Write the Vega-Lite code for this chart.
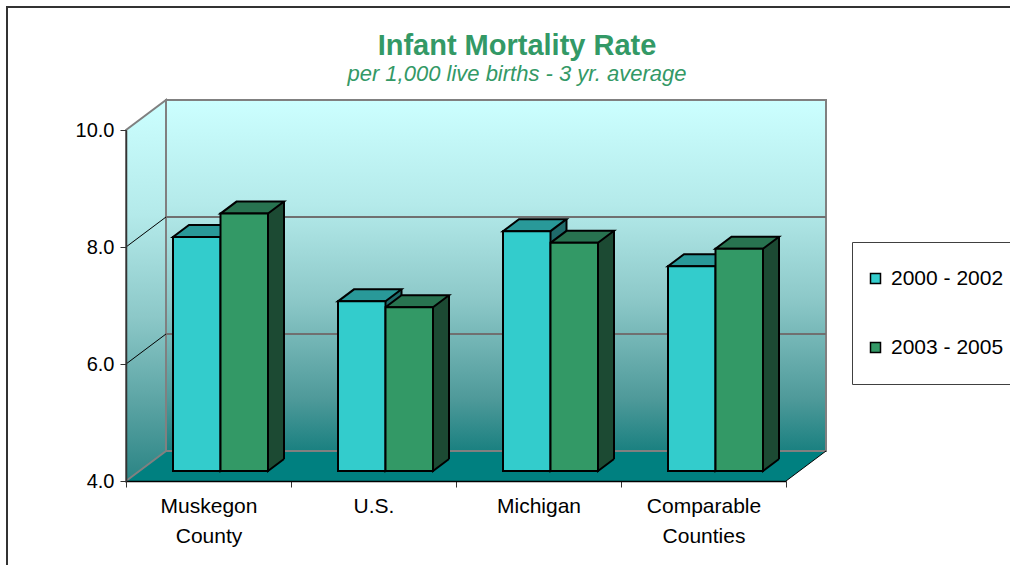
{
  "$schema": "https://vega.github.io/schema/vega-lite/v6.json",
  "width": 660,
  "height": 351,
  "autosize": {"type": "none"},
  "padding": {"left": 126, "top": 130, "right": 224, "bottom": 84},
  "background": "white",
  "config": {"view": {"stroke": null}, "font": "Liberation Sans"},
  "title": {
    "text": "Infant Mortality Rate",
    "subtitle": "per 1,000 live births - 3 yr. average",
    "anchor": "middle",
    "frame": "group",
    "dx": 61,
    "offset": -82,
    "font": "Liberation Sans",
    "fontSize": 29,
    "fontWeight": "bold",
    "color": "#339966",
    "subtitleFont": "Liberation Sans",
    "subtitleFontSize": 22,
    "subtitleFontStyle": "italic",
    "subtitleColor": "#339966",
    "subtitlePadding": 3
  },
  "data": {
    "values": [
      {"region": "Muskegon County", "period": "2000 - 2002", "rate": 8.0},
      {"region": "Muskegon County", "period": "2003 - 2005", "rate": 8.4},
      {"region": "U.S.", "period": "2000 - 2002", "rate": 6.9},
      {"region": "U.S.", "period": "2003 - 2005", "rate": 6.8},
      {"region": "Michigan", "period": "2000 - 2002", "rate": 8.1},
      {"region": "Michigan", "period": "2003 - 2005", "rate": 7.9},
      {"region": "Comparable Counties", "period": "2000 - 2002", "rate": 7.5},
      {"region": "Comparable Counties", "period": "2003 - 2005", "rate": 7.8}
    ]
  },
  "layer": [
    {
      "data": {"values": [{}]},
      "mark": {"type": "point", "shape": "M-201.5,300 L-201.5,-474 L900,-474", "size": 4, "filled": false, "stroke": "#333333", "strokeWidth": 2, "opacity": 1},
      "encoding": {"x": {"datum": "Muskegon County", "type": "nominal"}, "y": {"datum": 4, "type": "quantitative"}}
    },
    {
      "data": {"values": [{}]},
      "mark": {"type": "point", "shape": "M-82.5,0 L577.5,0 L617.5,-30 L-42.5,-30 Z", "size": 4, "filled": true, "fill": "#008080", "strokeWidth": 0, "opacity": 1},
      "encoding": {"x": {"datum": "Muskegon County", "type": "nominal"}, "y": {"datum": 4, "type": "quantitative"}}
    },
    {
      "data": {"values": [{}]},
      "mark": {"type": "point", "shape": "M-82.5,0 L-42.5,-30 L-42.5,-381 L-82.5,-351 Z", "size": 4, "filled": true, "opacity": 1, "stroke": "#808080", "strokeWidth": 2,
        "fill": {"gradient": "linear", "x1": 0, "y1": 0, "x2": 0, "y2": 1, "stops": [{"offset": 0, "color": "#CCFFFF"}, {"offset": 0.3, "color": "#B4EAEA"}, {"offset": 0.57, "color": "#8CC8C8"}, {"offset": 0.8, "color": "#5AA3A3"}, {"offset": 1, "color": "#2A8484"}]}},
      "encoding": {"x": {"datum": "Muskegon County", "type": "nominal"}, "y": {"datum": 4, "type": "quantitative"}}
    },
    {
      "data": {"values": [{}]},
      "mark": {"type": "point", "shape": "M-42.5,-30 L617.5,-30 L617.5,-381 L-42.5,-381 Z", "size": 4, "filled": true, "opacity": 1, "stroke": "#808080", "strokeWidth": 2,
        "fill": {"gradient": "linear", "x1": 0, "y1": 0, "x2": 0, "y2": 1, "stops": [{"offset": 0, "color": "#CCFFFF"}, {"offset": 0.3, "color": "#B4EAEA"}, {"offset": 0.57, "color": "#8CC8C8"}, {"offset": 0.85, "color": "#4F9A9A"}, {"offset": 1, "color": "#1A8080"}]}},
      "encoding": {"x": {"datum": "Muskegon County", "type": "nominal"}, "y": {"datum": 4, "type": "quantitative"}}
    },
    {
      "data": {"values": [{}]},
      "mark": {"type": "point", "shape": "M-42.5,-264 L617.5,-264 M-42.5,-147 L617.5,-147", "size": 4, "filled": false, "opacity": 1, "stroke": "#707070", "strokeWidth": 2},
      "encoding": {"x": {"datum": "Muskegon County", "type": "nominal"}, "y": {"datum": 4, "type": "quantitative"}}
    },
    {
      "data": {"values": [{}]},
      "mark": {"type": "point", "shape": "M-82.5,-234 L-42.5,-264 M-82.5,-117 L-42.5,-147 M577.5,0 L617.5,-30", "size": 4, "filled": false, "opacity": 1, "stroke": "black", "strokeWidth": 1},
      "encoding": {"x": {"datum": "Muskegon County", "type": "nominal"}, "y": {"datum": 4, "type": "quantitative"}}
    },
    {
      "transform": [{"filter": "datum.period == '2000 - 2002'"}],
      "mark": {"type": "bar", "width": 16, "fill": "#1F6B6B", "xOffset": 20, "yOffset": -22, "y2Offset": -22},
      "encoding": {"x": {"field": "region", "type": "nominal"}, "y": {"field": "rate", "type": "quantitative"}, "y2": {"datum": 4}}
    },
    {
      "transform": [{"filter": "datum.period == '2003 - 2005'"}],
      "mark": {"type": "bar", "width": 16, "fill": "#1C4A33", "xOffset": 67.5, "yOffset": -22, "y2Offset": -22},
      "encoding": {"x": {"field": "region", "type": "nominal"}, "y": {"field": "rate", "type": "quantitative"}, "y2": {"datum": 4}}
    },
    {
      "transform": [{"filter": "datum.period == '2000 - 2002'"}],
      "mark": {"type": "point", "shape": "M23.75,-12 L23.75,0 L39.75,-12", "size": 4, "filled": true, "fill": "#1F6B6B", "opacity": 1, "stroke": "black", "strokeWidth": 2, "xOffset": -11.75, "yOffset": -10},
      "encoding": {"x": {"field": "region", "type": "nominal"}, "y": {"datum": 4, "type": "quantitative"}}
    },
    {
      "transform": [{"filter": "datum.period == '2003 - 2005'"}],
      "mark": {"type": "point", "shape": "M23.75,-12 L23.75,0 L39.75,-12", "size": 4, "filled": true, "fill": "#1C4A33", "opacity": 1, "stroke": "black", "strokeWidth": 2, "xOffset": 35.75, "yOffset": -10},
      "encoding": {"x": {"field": "region", "type": "nominal"}, "y": {"datum": 4, "type": "quantitative"}}
    },
    {
      "transform": [{"filter": "datum.period == '2000 - 2002'"}],
      "mark": {"type": "rule", "stroke": "black", "strokeWidth": 2, "xOffset": 28, "yOffset": -22, "y2Offset": -22},
      "encoding": {"x": {"field": "region", "type": "nominal"}, "y": {"field": "rate", "type": "quantitative"}, "y2": {"datum": 4}}
    },
    {
      "transform": [{"filter": "datum.period == '2003 - 2005'"}],
      "mark": {"type": "rule", "stroke": "black", "strokeWidth": 2, "xOffset": 75.5, "yOffset": -22, "y2Offset": -22},
      "encoding": {"x": {"field": "region", "type": "nominal"}, "y": {"field": "rate", "type": "quantitative"}, "y2": {"datum": 4}}
    },
    {
      "transform": [{"filter": "datum.period == '2000 - 2002'"}],
      "mark": {"type": "point", "shape": "M-23.75,0 L23.75,0 L39.75,-12 L-7.75,-12 Z", "size": 4, "filled": true, "fill": "#299999", "opacity": 1, "stroke": "black", "strokeWidth": 2, "xOffset": -11.75, "yOffset": -10},
      "encoding": {"x": {"field": "region", "type": "nominal"}, "y": {"field": "rate", "type": "quantitative"}}
    },
    {
      "transform": [{"filter": "datum.period == '2003 - 2005'"}],
      "mark": {"type": "point", "shape": "M-23.75,0 L23.75,0 L39.75,-12 L-7.75,-12 Z", "size": 4, "filled": true, "fill": "#287350", "opacity": 1, "stroke": "black", "strokeWidth": 2, "xOffset": 35.75, "yOffset": -10},
      "encoding": {"x": {"field": "region", "type": "nominal"}, "y": {"field": "rate", "type": "quantitative"}}
    },
    {
      "transform": [{"filter": "datum.period == '2000 - 2002'"}],
      "mark": {"type": "bar", "width": 47.5, "stroke": "black", "strokeWidth": 2, "xOffset": -11.75, "yOffset": -10, "y2Offset": -10},
      "encoding": {
        "x": {"field": "region", "type": "nominal"},
        "y": {"field": "rate", "type": "quantitative"},
        "y2": {"datum": 4},
        "fill": {"field": "period", "type": "nominal"}
      }
    },
    {
      "transform": [{"filter": "datum.period == '2003 - 2005'"}],
      "mark": {"type": "bar", "width": 47.5, "stroke": "black", "strokeWidth": 2, "xOffset": 35.75, "yOffset": -10, "y2Offset": -10},
      "encoding": {
        "x": {
          "field": "region", "type": "nominal",
          "scale": {"domain": ["Muskegon County", "U.S.", "Michigan", "Comparable Counties"], "paddingInner": 0, "paddingOuter": 0},
          "axis": {"title": null, "labelExpr": "split(datum.label, ' ')", "labelAngle": 0, "labelAlign": "center", "labelFontSize": 21, "labelColor": "black", "labelLineHeight": 30, "labelPadding": 19, "tickBand": "extent", "tickSize": 6, "tickColor": "#333333", "domainColor": "black", "domainWidth": 1.5, "zindex": 1}
        },
        "y": {
          "field": "rate", "type": "quantitative",
          "scale": {"domain": [4, 10], "nice": false, "zero": false},
          "axis": {"title": null, "values": [4, 6, 8, 10], "format": ".1f", "labelFontSize": 20, "labelColor": "black", "labelPadding": 6, "tickSize": 6, "tickColor": "#333333", "domainColor": "#333333", "domainWidth": 1.5, "grid": false, "zindex": 1}
        },
        "y2": {"datum": 4},
        "fill": {
          "field": "period", "type": "nominal",
          "scale": {"domain": ["2000 - 2002", "2003 - 2005"], "range": ["#33CCCC", "#339966"]},
          "legend": {"title": null, "orient": "none", "legendX": 726, "legendY": 112, "symbolType": "square", "symbolSize": 100, "symbolStrokeColor": "black", "symbolStrokeWidth": 1.5, "labelFontSize": 21, "labelColor": "black", "labelOffset": 5, "padding": 26, "rowPadding": 47, "symbolOffset": -13, "fillColor": "white", "strokeColor": "#404040"}
        }
      }
    }
  ]
}
